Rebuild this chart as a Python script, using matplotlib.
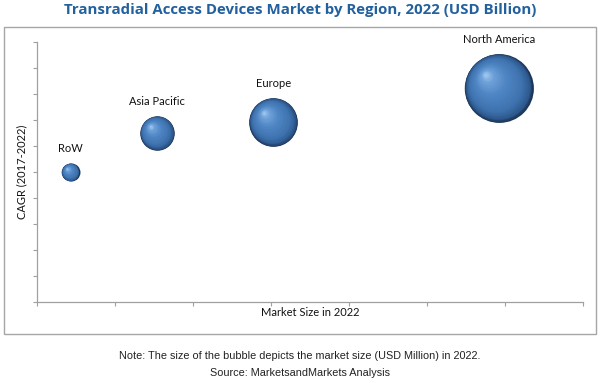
import matplotlib
matplotlib.use("Agg")
import matplotlib.pyplot as plt
import numpy as np
from matplotlib.colors import LinearSegmentedColormap
from matplotlib.patches import Rectangle
from matplotlib.transforms import ScaledTranslation

regions = ["RoW", "Asia Pacific", "Europe", "North America"]
market_size_x = [0.43, 1.54, 3.03, 5.92]
cagr_y = [5.0, 6.5, 6.92, 8.23]
bubble_size = [0.6, 2.2, 4.4, 8.8]

fig = plt.figure(figsize=(6, 3.83), dpi=100)
W, H = 600, 383

# outer frame
fig.patches.append(Rectangle((4 / W, 1 - 334 / H), 592 / W, 307 / H,
                             transform=fig.transFigure, fill=False,
                             edgecolor="#a6a6a6", linewidth=1.0))

ax = fig.add_axes([37 / W, 1 - 302 / H, 546 / W, 260 / H])
ax.set_xlim(0, 7)
ax.set_ylim(0, 10)
for s in ["top", "right"]:
    ax.spines[s].set_visible(False)
for s in ["left", "bottom"]:
    ax.spines[s].set_color("#a0a0a0")
    ax.spines[s].set_linewidth(0.9)
ax.set_xticks(np.arange(0, 8))
ax.set_yticks(np.arange(0, 11))
ax.tick_params(axis="both", length=3, color="#a0a0a0", labelleft=False, labelbottom=False)

cmap = LinearSegmentedColormap.from_list(
    "sphere", [(0.0, "#1c3658"), (0.08, "#2e5a8f"), (0.25, "#3f73b0"),
               (0.6, "#4f86c4"), (0.85, "#6fa2da"), (1.0, "#a6cdf2")])

k = 11.6  # px per sqrt(size)
N = 45
for x, y, sz, name in zip(market_size_x, cagr_y, bubble_size, regions):
    r_px = k * np.sqrt(sz)
    r_pt = r_px * 0.72
    for i in range(N):
        t = i / N
        rr = r_pt * (1 - t) ** 0.9
        off = 0.4 * r_pt * t
        tr = ax.transData + ScaledTranslation(-off / 72, off / 72, fig.dpi_scale_trans)
        ax.scatter([x], [y], s=(2 * rr) ** 2, color=cmap(t), linewidths=0,
                   transform=tr, zorder=3 + i, clip_on=False)
    ax.annotate(name, (x, y), xytext=(0, (r_px + 9) * 0.72), textcoords="offset points",
                ha="center", va="bottom", fontsize=8, family="Lato", color="#111111")

ax.set_xlabel("Market Size in 2022", fontsize=8, family="Lato", color="#111111")
ax.set_ylabel("CAGR (2017-2022)", fontsize=8, family="Lato", color="#111111")
ax.xaxis.set_label_coords(0.5, -0.042)
ax.yaxis.set_label_coords(-0.0275, 0.5)
ax.xaxis.label.set_va("center")
ax.yaxis.label.set_va("center")

fig.text(0.5, 1 - 10 / H, "Transradial Access Devices Market by Region, 2022 (USD Billion)",
         ha="center", va="center", fontsize=10.8, fontweight="bold", color="#23609e",
         family="Open Sans")
fig.text(0.5, 1 - 356 / H,
         "Note: The size of the bubble depicts the market size (USD Million) in 2022.",
         ha="center", va="center", fontsize=7.8, family="Liberation Sans", color="#222222")
fig.text(0.5, 1 - 373 / H, "Source: MarketsandMarkets Analysis",
         ha="center", va="center", fontsize=7.8, family="Liberation Sans", color="#222222")

fig.savefig("out.png", dpi=100)
